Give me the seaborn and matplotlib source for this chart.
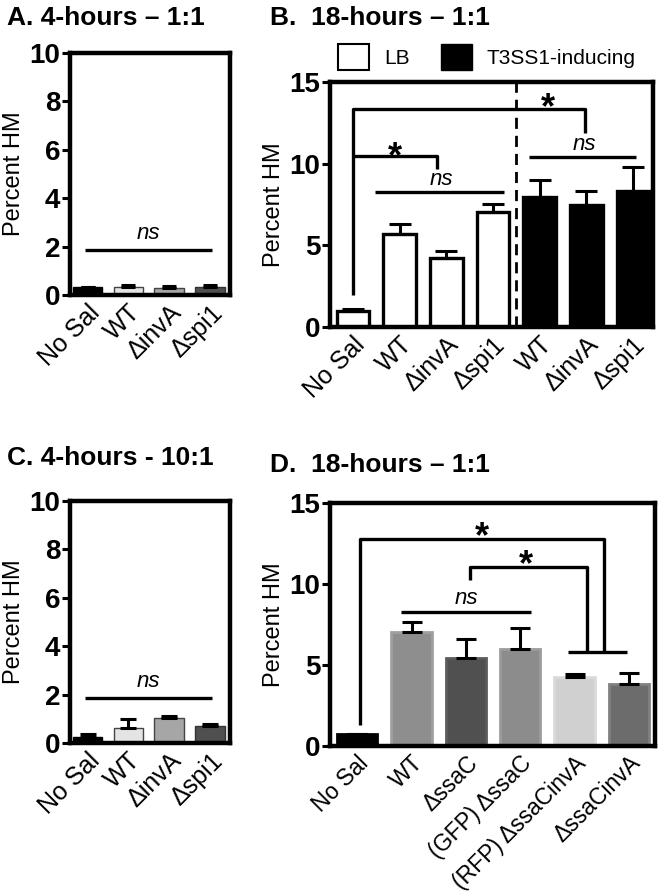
import numpy as np
import pandas as pd
import seaborn as sns
import matplotlib.pyplot as plt
from matplotlib.patches import Patch
from matplotlib.transforms import ScaledTranslation

sns.set_style('ticks')
plt.rcParams['font.family'] = ['Liberation Sans', 'DejaVu Sans']
plt.rcParams.update({'text.color': 'black', 'axes.labelcolor': 'black',
                     'axes.edgecolor': 'black', 'xtick.color': 'black',
                     'ytick.color': 'black'})

# --- data ---
a_labels = ['No Sal', 'WT', 'ΔinvA', 'Δspi1']
a_values = [0.32, 0.33, 0.29, 0.33]
a_errors = [0.03, 0.07, 0.07, 0.08]
a_colors = ['#000000', '#e4e4e4', '#a6a6a6', '#4f4f4f']
a_edges = ['#000000', '#444444', '#444444', '#333333']

b_labels = ['No Sal', 'WT', 'ΔinvA', 'Δspi1', 'WT', 'ΔinvA', 'Δspi1']
b_values = [1.0, 5.7, 4.25, 7.05, 7.95, 7.5, 8.35]
b_errors = [0.12, 0.6, 0.4, 0.5, 1.05, 0.85, 1.45]
b_colors = ['white', 'white', 'white', 'white', 'black', 'black', 'black']
b_edges = ['black'] * 7

c_labels = ['No Sal', 'WT', 'ΔinvA', 'Δspi1']
c_values = [0.26, 0.62, 1.03, 0.70]
c_errors = [0.1, 0.37, 0.07, 0.1]
c_colors = a_colors
c_edges = a_edges

d_labels = ['No Sal', 'WT', 'ΔssaC', '(GFP) ΔssaC', '(RFP) ΔssaCinvA', 'ΔssaCinvA']
d_values = [0.72, 7.05, 5.45, 5.98, 4.25, 3.85]
d_errors = [0.03, 0.6, 1.15, 1.32, 0.2, 0.65]
d_colors = ['#000000', '#8e8e8e', '#505050', '#8c8c8c', '#d0d0d0', '#6c6c6c']
d_edges = ['#000000', '#a0a0a0', '#5c5c5c', '#9c9c9c', '#dadada', '#808080']

fig = plt.figure(figsize=(6.66, 8.96), dpi=100)
W, H = 666, 896


def px_axes(left, top, right, bottom):
    return fig.add_axes([left / W, 1 - bottom / H, (right - left) / W, (bottom - top) / H])


def draw_panel(ax, labels, values, errors, colors, edges, edge_lw, capsize,
               ymax, yticks, xlim, width, xfs=18):
    keys = [str(i) for i in range(len(labels))]
    df = pd.DataFrame({'key': keys, 'value': values})
    sns.barplot(data=df, x='key', y='value', hue='key', palette=dict(zip(keys, colors)),
                legend=False, width=width, saturation=1, ax=ax, zorder=2)
    for p, ec in zip(ax.patches, edges):
        p.set_edgecolor(ec)
        p.set_linewidth(edge_lw)
    ax.errorbar(np.arange(len(values)), values, yerr=[np.zeros(len(values)), errors],
                fmt='none', ecolor='black', elinewidth=2.2, capsize=capsize,
                capthick=2.2, zorder=3)
    ax.set_ylim(0, ymax)
    ax.set_xlim(*xlim)
    ax.set_yticks(yticks)
    ax.set_yticklabels([str(t) for t in yticks], fontsize=20, fontweight='bold')
    ax.set_xticks(range(len(labels)))
    ax.set_xticklabels(labels, rotation=45, ha='right', va='top',
                       rotation_mode='anchor', fontsize=xfs)
    off = ScaledTranslation(9 / 72, -1 / 72, fig.dpi_scale_trans)
    for t in ax.get_xticklabels():
        t.set_transform(t.get_transform() + off)
    ax.tick_params(axis='y', length=6, width=2.2, pad=1)
    ax.tick_params(axis='x', length=0, pad=4)
    for s in ax.spines.values():
        s.set_linewidth(3.2)
        s.set_visible(True)
    ax.set_xlabel('')
    ax.set_ylabel('Percent HM', fontsize=17, labelpad=3)


def bracket(ax, pts, lw=2.4):
    xs, ys = zip(*pts)
    ax.plot(xs, ys, color='black', lw=lw, solid_capstyle='butt', zorder=4, clip_on=False)


def star(ax, x, y):
    ax.text(x, y, '*', fontsize=26, fontweight='bold', ha='center', va='baseline')


def ns(ax, x, y):
    ax.text(x, y, 'ns', fontsize=16, style='italic', ha='center', va='bottom')


# Panel A
axA = px_axes(70, 53, 230, 295)
draw_panel(axA, a_labels, a_values, a_errors, a_colors, a_edges, 1.0, 5,
           10, [0, 2, 4, 6, 8, 10], (-0.43, 3.49), 0.72)
bracket(axA, [(-0.06, 1.86), (3.06, 1.86)])
ns(axA, 1.5, 2.1)

# Panel C
axC = px_axes(70, 501, 230, 743)
draw_panel(axC, c_labels, c_values, c_errors, c_colors, c_edges, 1.0, 6,
           10, [0, 2, 4, 6, 8, 10], (-0.43, 3.49), 0.72)
bracket(axC, [(-0.06, 1.86), (3.06, 1.86)])
ns(axC, 1.5, 2.1)

# Panel B
axB = px_axes(330, 82, 653, 327)
draw_panel(axB, b_labels, b_values, b_errors, b_colors, b_edges, 2.4, 8,
           15, [0, 5, 10, 15], (-0.49, 6.43), 0.7)
axB.axvline(3.5, color='black', lw=2, ls=(0, (4, 2.5)), zorder=1)
bracket(axB, [(0.0, 1.94), (0.0, 13.37), (4.97, 13.37), (4.97, 11.85)])
bracket(axB, [(0.0, 10.5), (1.8, 10.5), (1.8, 9.7)])
bracket(axB, [(0.47, 8.27), (3.23, 8.27)])
bracket(axB, [(3.77, 10.41), (6.06, 10.41)])
star(axB, 4.17, 12.8)
star(axB, 0.9, 9.8)
ns(axB, 1.9, 8.4)
ns(axB, 4.97, 10.55)
handles = [Patch(facecolor='white', edgecolor='black', lw=1.5, label='LB'),
           Patch(facecolor='black', edgecolor='black', label='T3SS1-inducing')]
axB.legend(handles=handles, loc='lower left', bbox_to_anchor=(0.025, 1.05), ncol=2,
           frameon=False, fontsize=15, handlelength=1.5, handleheight=1.5,
           handletextpad=0.7, columnspacing=1.5, borderpad=0, borderaxespad=0)

# Panel D
axD = px_axes(330, 503, 655, 746)
draw_panel(axD, d_labels, d_values, d_errors, d_colors, d_edges, 2.0, 7,
           15, [0, 5, 10, 15], (-0.5, 5.48), 0.74, xfs=16.5)
bracket(axD, [(0.05, 1.3), (0.05, 12.76), (4.55, 12.76), (4.55, 5.8)])
bracket(axD, [(2.08, 10.23), (2.08, 11.05), (4.22, 11.05), (4.22, 5.8)])
bracket(axD, [(3.88, 5.8), (4.96, 5.8)])
bracket(axD, [(0.81, 8.28), (3.19, 8.28)])
star(axD, 2.29, 12.3)
star(axD, 3.11, 10.55)
ns(axD, 2.01, 8.45)

# panel titles
fig.text(7 / W, 1 - 25 / H, 'A. 4-hours – 1:1', fontsize=19, fontweight='bold', va='baseline')
fig.text(270 / W, 1 - 25 / H, 'B.  18-hours – 1:1', fontsize=19, fontweight='bold', va='baseline')
fig.text(7 / W, 1 - 465 / H, 'C. 4-hours - 10:1', fontsize=19, fontweight='bold', va='baseline')
fig.text(270 / W, 1 - 472 / H, 'D.  18-hours – 1:1', fontsize=19, fontweight='bold', va='baseline')

fig.savefig('out.png', dpi=100)
